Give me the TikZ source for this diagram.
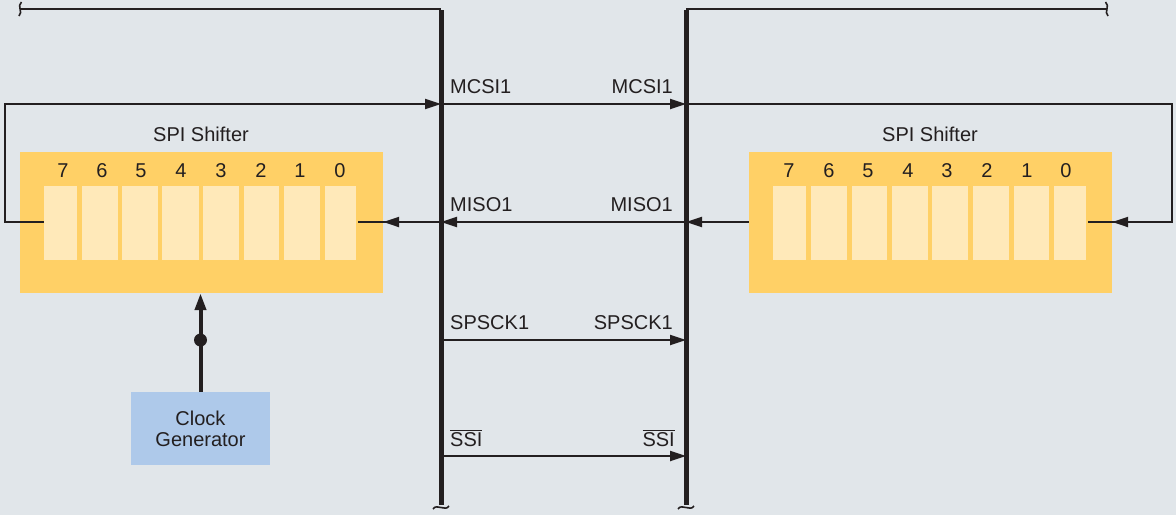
\documentclass[tikz,border=0pt]{standalone}
\usepackage{fontspec}
\setmainfont{Liberation Sans}
\usetikzlibrary{arrows.meta}
\definecolor{bg}{HTML}{E1E6EA}
\definecolor{shy}{HTML}{FFD066}
\definecolor{celly}{HTML}{FFE9B9}
\definecolor{clkb}{HTML}{AEC9EA}
\definecolor{ink}{HTML}{231F20}
\tikzset{
  shbox/.style={fill=shy, draw=none, minimum width=363pt, minimum height=141pt, inner sep=0pt},
  cellbox/.style={fill=celly, draw=none, minimum height=74pt, inner sep=0pt},
  clkbox/.style={fill=clkb, draw=none, minimum width=139pt, minimum height=73pt, inner sep=0pt, align=center, text=ink},
  lbl/.style={inner sep=0pt, text=ink},
  conn/.style={draw=ink, line width=2.2pt},
  tip/.style={-{Triangle[length=16pt,width=10pt]}},
  bus/.style={draw=ink, line width=5pt},
  topline/.style={draw=ink, line width=2pt},
  squig/.style={draw=ink, line width=1.6pt},
}
\begin{document}
\begin{tikzpicture}[x=1pt,y=-1pt, font=\fontsize{20}{21}\selectfont]
\useasboundingbox (0,0) rectangle (1176,515);
\fill[bg] (0,0) rectangle (1176,515);

% shifter boxes
\node[shbox] (lsh) at (201.5,222.5) {};
\node[shbox] (rsh) at (930.5,222.5) {};
\foreach \n/\x/\w in {7/60.5/33,6/100/36,5/140/36,4/180.5/37,3/221/36,2/261.5/35,1/302/36,0/340.5/31}
  \node[cellbox, minimum width=\w pt] (lc\n) at (\x,223) {};
\foreach \n/\x/\w in {7/789.5/33,6/829/36,5/869.5/35,4/910/36,3/950/36,2/991/36,1/1031.5/35,0/1070/32}
  \node[cellbox, minimum width=\w pt] (rc\n) at (\x,223) {};
\foreach \n/\x in {7/63,6/102,5/141,4/181,3/221,2/261,1/300,0/340}
  \node[lbl, anchor=base] (ld\n) at (\x,177) {\n};
\foreach \n/\x in {7/789,6/829,5/868,4/908,3/947,2/987,1/1027,0/1066}
  \node[lbl, anchor=base] (rd\n) at (\x,177) {\n};
\node[lbl, anchor=base] (lshl) at (201,141) {SPI Shifter};
\node[lbl, anchor=base] (rshl) at (930,141) {SPI Shifter};

% clock generator
\node[clkbox] (clk) at (200.5,428.5) {Clock\\Generator};
\coordinate (dot) at (200.5,340);
\draw[draw=ink, line width=4pt, -{Triangle[length=17pt,width=11pt]}] (clk.north) -- (clk.north |- lsh.south);
\fill[ink] (dot) circle (6.5pt);

% bus coordinates
\coordinate (lbt) at (441,9);
\coordinate (lbb) at (441,505);
\coordinate (rbt) at (686,9);
\coordinate (rbb) at (686,505);
\coordinate (ltl) at (20,9);
\coordinate (rtr) at (1107,9);
\coordinate (lmcsi) at (441,104);
\coordinate (rmcsi) at (686,104);
\coordinate (lmiso) at (441,222);
\coordinate (rmiso) at (686,222);
\coordinate (lsck) at (441,340);
\coordinate (rsck) at (686,340);
\coordinate (lssi) at (441,456);
\coordinate (rssi) at (686,456);
\coordinate (lloop) at (5,104);
\coordinate (rloop) at (1172,222);

% MCSI1
\draw[conn, tip] (lc7.west |- lmiso) -| (lloop) -- (lmcsi);
\draw[conn, tip] (lmcsi) -- (rmcsi);
\draw[conn] (rmcsi) -| (rloop) -- ([xshift=2pt]rc0.east |- rloop);
\draw[conn, tip] (rloop) -- (rsh.east |- rloop);
% MISO1
\draw[conn, tip] (rsh.west |- rmiso) -- (rmiso);
\draw[conn, tip] (rmiso) -- (lmiso);
\draw[conn] (lmiso) -- ([xshift=2pt]lc0.east |- lmiso);
\draw[conn, tip] (lmiso) -- (lsh.east |- lmiso);
% SPSCK1, SSI
\draw[conn, tip] (lsck) -- (rsck);
\draw[conn, tip] (lssi) -- (rssi);

% buses
\draw[topline] (ltl) -- (lbt);
\draw[topline] (rbt) -- (rtr);
\draw[bus] ([yshift=-1pt]lbt) -- (lbb);
\draw[bus] ([yshift=-1pt]rbt) -- (rbb);
\draw[squig] (21.5,2) .. controls (16.5,6) and (23.5,12) .. (19,16);
\draw[squig] (1105.5,2) .. controls (1110.5,6) and (1103.5,12) .. (1108,16);
\draw[squig] (433,509) .. controls (437,503) and (445,512) .. (449,506);
\draw[squig] (678,509) .. controls (682,503) and (690,512) .. (694,506);

% labels
\node[lbl, anchor=base west] (t1) at (450,93) {MCSI1};
\node[lbl, anchor=base east] (t2) at (673,93) {MCSI1};
\node[lbl, anchor=base west] (t3) at (450,211) {MISO1};
\node[lbl, anchor=base east] (t4) at (673,211) {MISO1};
\node[lbl, anchor=base west] (t5) at (450,329) {SPSCK1};
\node[lbl, anchor=base east] (t6) at (673,329) {SPSCK1};
\node[lbl, anchor=base west] (t7) at (450,446) {$\overline{\mbox{SSI}}$};
\node[lbl, anchor=base east] (t8) at (675,446) {$\overline{\mbox{SSI}}$};
\end{tikzpicture}
\end{document}
